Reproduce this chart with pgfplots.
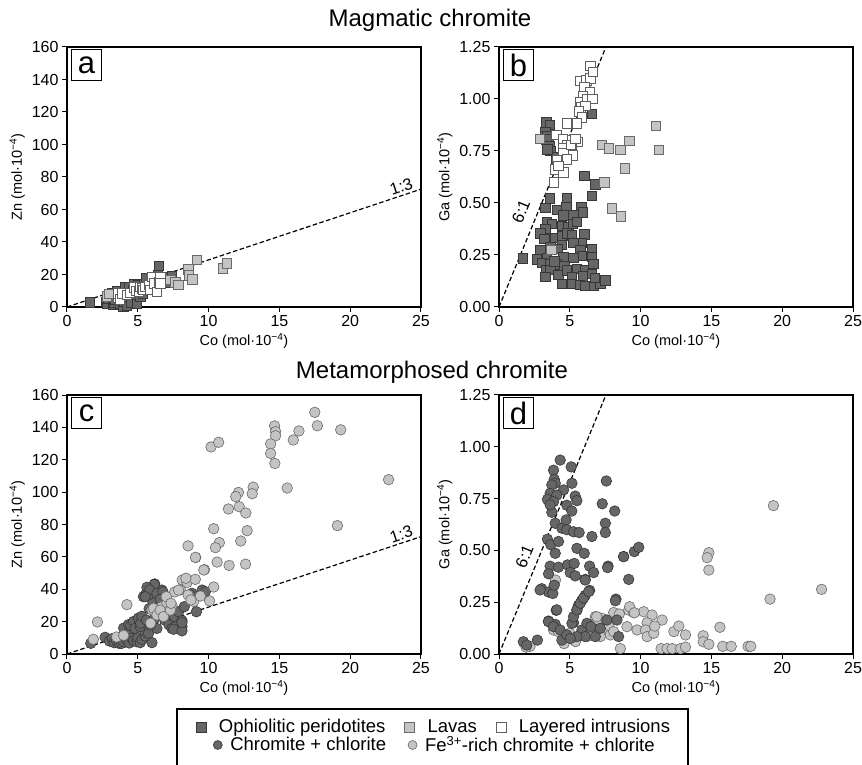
\documentclass[border=0pt]{standalone}
\usepackage{fontspec}
\setmainfont{Liberation Sans}
\usepackage{pgfplots}
\pgfplotsset{compat=1.18}
\definecolor{dfill}{RGB}{102,102,102}
\definecolor{dedge}{RGB}{55,55,55}
\definecolor{lfill}{RGB}{196,196,196}
\definecolor{ledge}{RGB}{105,105,105}
\definecolor{wedge}{RGB}{95,95,95}
\tikzset{
 oph/.style={only marks, mark=square*, mark size=4.7pt, mark options={fill=dfill, draw=dedge, line width=0.6pt}},
 lav/.style={only marks, mark=square*, mark size=4.7pt, mark options={fill=lfill, draw=ledge, line width=0.6pt}},
 lay/.style={only marks, mark=square*, mark size=4.7pt, mark options={fill=white, draw=wedge, line width=0.6pt}},
 chl/.style={only marks, mark=*, mark size=5.3pt, mark options={fill=dfill, draw=dedge, line width=0.6pt}},
 fer/.style={only marks, mark=*, mark size=5.3pt, mark options={fill=lfill, draw=ledge, line width=0.6pt}},
 letter/.style={draw, line width=1.1pt, anchor=north west, minimum width=30pt, minimum height=31pt,
  inner sep=0pt, fill=white, font=\fontsize{31}{31}\selectfont, xshift=4pt, yshift=-2pt},
 ratio/.style={font=\fontsize{16.5}{18}\selectfont},
 rline/.style={black, line width=1.2pt, dash pattern=on 4.5pt off 2.5pt},
}
\pgfplotsset{
 panel/.style={scale only axis, width=354pt, xmin=0, xmax=25, xtick={0,5,...,25},
  clip=false, axis line style={line width=1.1pt}, tick style={line width=1pt, black},
  tick align=outside, tick pos=left, major tick length=5pt,
  /pgf/number format/assume math mode=true,
  ticklabel style={font=\fontsize{16}{18}\selectfont},
  label style={font=\fontsize{14.5}{16}\selectfont},
  xlabel={Co (mol·10\textsuperscript{−4})}},
 zn/.style={ymin=0, ymax=160, ytick={0,20,...,160}, ylabel={Zn (mol·10\textsuperscript{−4})}},
 ga/.style={ymin=0, ymax=1.25, ytick={0,0.25,...,1.25}, ylabel={Ga (mol·10\textsuperscript{−4})},
  yticklabel style={/pgf/number format/.cd, fixed, fixed zerofill, precision=2}},
 legax/.style={hide axis, scale only axis, width=10pt, height=10pt, anchor=center,
  xmin=0, xmax=1, ymin=0, ymax=1,
  legend image code/.code={\draw[##1] plot coordinates {(0pt,0pt)};},
  legend style={at={(0.5,0.5)}, anchor=center, draw=none, fill=none, inner sep=0pt,
   font=\fontsize{18.5}{20}\selectfont}},
}
\begin{document}
\begin{tikzpicture}[x=1pt,y=1pt]
\useasboundingbox (0,0) rectangle (862,764);
\node[font=\fontsize{24}{28}\selectfont] at (430,744) {Magmatic chromite};
\node[font=\fontsize{24}{28}\selectfont] at (432,392) {Metamorphosed chromite};

% ---------------- panel a
\begin{axis}[panel, zn, height=260pt, at={(67pt,457pt)}, anchor=south west]
\addplot[rline] coordinates {(0,0) (25,72.5)};
\addplot[oph] coordinates {(1.6,3) (2.76,3.3) (2.8,1.9) (2.93,5.4) (3.0,7.5) (3.16,8.4) (3.28,1.7) (3.3,2.8)
 (3.4,4.3) (3.5,10) (3.56,8.0) (3.63,6.4) (3.75,2.3) (3.94,8.4) (3.99,0.4) (4.0,3.5) (4.11,12.5) (4.22,4.7)
 (4.22,0.8) (4.4,12) (4.51,2.7) (4.58,7.4) (4.65,10.5) (4.74,14.2) (4.93,10.9) (4.93,1.9) (5.0,13.5)
 (5.17,6.4) (5.36,8.0) (5.41,14.2) (5.59,18.0) (5.69,12.5) (6.0,11.5) (6.2,17) (6.42,19.9) (6.47,25.2)
 (6.7,16.6) (6.8,18.5) (7.06,15.2) (7.41,19.3)};
\addplot[lav] coordinates {(2.8,6.5) (3.0,8) (6.6,16) (7.06,16.6) (7.3,16.6) (7.65,15.2) (7.85,13.5)
 (8.58,23.3) (8.6,19.5) (8.85,17.1) (9.15,28.9) (11.0,23.9) (11.3,26.8)};
\addplot[lay] coordinates {(3.6,6) (3.63,8.4) (3.75,4.7) (3.87,8.4) (4.22,7.4) (4.46,8.8) (4.7,12.1)
 (4.9,10) (5.05,9.4) (5.17,12.5) (5.3,11.5) (5.4,10.5) (5.52,12.5) (5.76,13.5) (5.88,10.5) (5.99,18.6)
 (6.11,14.6) (6.35,9.4) (6.47,15.6) (6.58,18.6) (6.6,14.5)};
\node[ratio, rotate=18.4] at (axis cs:23.6,74) {1:3};
\node[letter] at (rel axis cs:0,1) {a};
\end{axis}

% ---------------- panel b
\begin{axis}[panel, ga, height=260pt, at={(499pt,457pt)}, anchor=south west]
\addplot[rline] coordinates {(0,0) (7.55,1.25)};
\addplot[oph] coordinates {(3.33,0.888) (3.57,0.875) (3.26,0.843) (3.38,0.822) (3.5,0.795) (3.33,0.806)
 (3.54,0.774) (3.61,0.752) (3.42,0.758) (4.13,0.72) (4.04,0.70) (6.56,0.93) (6.02,0.63) (6.8,0.59) (6.56,0.535)
 (3.57,0.523) (4.79,0.523) (3.26,0.477) (4.08,0.466) (4.74,0.48) (5.8,0.48) (5.92,0.455) (5.26,0.44)
 (4.55,0.44) (3.38,0.41) (3.73,0.40) (4.44,0.39) (4.89,0.383) (5.22,0.40) (5.5,0.41) (6.02,0.35) (5.85,0.31)
 (3.26,0.376) (2.91,0.354) (3.19,0.328) (3.97,0.334) (4.44,0.342) (4.79,0.354) (5.14,0.345) (5.26,0.308)
 (4.44,0.30) (4.15,0.28) (3.61,0.29) (2.91,0.274) (5.73,0.274) (6.56,0.277) (5.85,0.245) (6.56,0.242)
 (5.26,0.237) (4.55,0.242) (3.38,0.237) (2.67,0.229) (3.03,0.213) (3.57,0.205) (4.08,0.205) (4.6,0.197)
 (3.3,0.18) (3.61,0.18) (4.2,0.154) (4.79,0.176) (5.5,0.184) (6.09,0.18) (6.65,0.208) (6.56,0.16)
 (5.92,0.147) (5.14,0.144) (3.26,0.144) (4.44,0.112) (5.14,0.112) (5.69,0.107) (6.09,0.102) (6.68,0.102)
 (7.15,0.112) (7.51,0.128) (6.75,0.14) (3.9,0.22) (1.66,0.234)};
\addplot[lav] coordinates {(2.86,0.81) (7.27,0.78) (7.74,0.763) (8.57,0.755) (9.2,0.80) (11.07,0.87)
 (11.3,0.755) (8.88,0.666) (7.44,0.60) (7.96,0.474) (8.6,0.437) (3.68,0.274)};
\addplot[lay] coordinates {(6.44,1.16) (5.69,1.087) (6.16,1.09) (6.44,1.10) (6.63,1.13) (6.02,1.06)
 (6.4,1.035) (5.9,1.015) (5.69,0.987) (6.2,1.0) (6.6,1.0) (5.79,0.96) (6.1,0.966) (5.62,0.94) (5.85,0.912)
 (5.5,0.883) (4.79,0.883) (4.04,0.827) (4.51,0.81) (5.14,0.803) (5.57,0.795) (4.79,0.78) (4.51,0.763)
 (5.14,0.763) (4.55,0.74) (5.2,0.73) (4.79,0.71) (4.08,0.707) (3.96,0.662) (4.55,0.647) (3.85,0.60)
 (4.2,0.68) (5.07,0.78) (5.38,0.81)};
\node[ratio, rotate=67.8] at (axis cs:1.55,0.46) {6:1};
\node[letter] at (rel axis cs:0,1) {b};
\end{axis}

% ---------------- panel c
\begin{axis}[panel, zn, height=259pt, at={(67pt,110pt)}, anchor=south west]
\addplot[rline] coordinates {(0,0) (25,72.5)};
\addplot[chl] coordinates {(1.68,6.6) (2.69,10.3) (3.0,8) (3.2,9.5) (3.33,7.0) (3.5,8) (3.63,8.6) (3.7,6.5)
 (3.8,10.5) (3.87,6.6) (4.0,7.5) (4.2,11) (4.23,8.6) (4.4,6.8) (4.5,13) (4.58,9.7) (4.7,8.2) (4.93,7.6)
 (5.0,10) (5.17,7.0) (5.3,9) (5.52,11.1) (5.5,14) (5.76,12.8) (6.0,7.0) (6.35,15.8) (4.0,16) (4.34,18.1)
 (4.5,17.5) (4.7,20.1) (4.81,15.8) (5.05,22.2) (5.17,16.9) (5.2,19) (5.29,23.3) (5.6,21) (5.9,18) (6.2,22)
 (6.6,24) (6.9,21) (7.2,18) (5.8,28) (6.2,30) (6.6,31) (7.0,27) (7.4,28.5) (7.6,23)
 (5.4,35.4) (5.64,38.5) (6.0,40.6) (6.19,43.3) (6.47,38.5) (6.35,33.4) (6.7,39.5) (6.82,35.4) (6.0,33.4)
 (5.76,36.5) (6.16,43.0) (5.65,41.2) (5.84,39.6) (5.53,35.4) (6.35,37.5) (6.77,38.5) (6.59,33.8)
 (7.88,26.1) (8.28,29.2) (7.41,15.8) (7.65,16.9) (8.12,16.9) (8.12,20.6) (9.14,26.1) (8.82,37.5)
 (9.54,39.5) (9.77,38.5) (8.71,36.4) (7.53,15.3) (8.12,14.3) (8.12,19.4)};
\addplot[fer] coordinates {(17.5,149.3) (17.68,141) (19.33,138.5) (16.38,137.8) (15.98,132.2) (14.66,140.9)
 (14.73,137.4) (14.73,134.8) (14.38,129.8) (14.38,123.9) (14.68,117.7) (10.17,127.9) (10.71,130.8)
 (22.71,107.7) (15.55,102.5) (13.15,103.1) (13.08,99.0) (12.11,99.8) (11.92,97.2) (12.16,91.0) (11.4,89.6)
 (12.63,87.1) (19.1,79.3) (10.36,77.4) (12.72,76.2) (10.76,68.8) (12.27,69.8) (10.48,65.7) (8.55,66.8)
 (9.09,59.6) (9.71,52.1) (10.6,56.8) (11.45,54.7) (12.61,55.5) (8.14,45.7) (8.47,44.1) (9.06,46.1)
 (8.4,46.8) (10.36,41.4) (10.07,32.8) (4.23,30.5) (7.6,38.3) (8.0,39.6) (8.55,36.5) (8.95,32.4) (9.42,35.8)
 (6.66,29.0) (7.06,31.5) (7.41,30.0) (6.94,25.8) (6.71,23.7) (6.0,27.3) (2.15,19.8) (1.86,9.1) (3.5,10.5)
 (4.0,11.5) (5.9,19) (6.11,28.2) (6.35,24.1) (6.58,27.1) (6.82,23.1) (7.01,35.4) (7.3,27.1) (7.34,31.3)
 (7.88,39.5) (8.75,33.4) (9.66,51.9) (9.07,59.7)};
\node[ratio, rotate=18.4] at (axis cs:23.6,74) {1:3};
\node[letter] at (rel axis cs:0,1) {c};
\end{axis}

% ---------------- panel d
\begin{axis}[panel, ga, height=259pt, at={(499pt,110pt)}, anchor=south west]
\addplot[rline] coordinates {(0,0) (7.55,1.25)};
\addplot[fer] coordinates {(14.82,0.489) (14.7,0.465) (14.82,0.405) (22.78,0.312) (19.14,0.265) (19.38,0.716)
 (15.6,0.129) (14.42,0.088) (14.42,0.059) (14.82,0.047) (15.8,0.037) (16.4,0.037) (17.59,0.037) (17.78,0.037)
 (2.19,0.037) (1.91,0.033) (3.99,0.357) (9.16,0.212) (9.51,0.20) (8.1,0.20) (10.22,0.204) (10.81,0.188)
 (11.52,0.164) (10.46,0.151) (3.85,0.116) (4.2,0.108) (6.8,0.18) (7.15,0.164) (7.27,0.172) (7.39,0.124)
 (7.74,0.138) (7.86,0.092) (8.1,0.108) (9.04,0.132) (9.75,0.116) (10.34,0.116) (10.46,0.084) (12.35,0.108)
 (12.7,0.135) (13.17,0.092) (8.57,0.026) (11.45,0.026) (11.87,0.026) (12.23,0.026) (12.82,0.026)
 (13.17,0.033) (6.45,0.116) (6.33,0.138) (6.92,0.145) (7.03,0.116) (6.21,0.084) (7.15,0.084) (10.93,0.10)
 (9.23,0.228) (9.56,0.199) (8.5,0.193) (6.9,0.18) (11.0,0.135) (5.0,0.10) (5.4,0.06) (4.6,0.05)};
\addplot[chl] coordinates {(4.32,0.936) (5.1,0.903) (3.85,0.887) (7.58,0.835) (3.9,0.843) (3.97,0.824)
 (3.73,0.816) (4.56,0.792) (5.15,0.824) (3.61,0.775) (4.08,0.767) (3.42,0.746) (3.85,0.735) (5.38,0.762)
 (5.5,0.74) (7.29,0.725) (4.79,0.718) (5.14,0.69) (8.17,0.69) (3.73,0.684) (3.61,0.72) (3.97,0.631)
 (4.44,0.607) (4.74,0.647) (4.79,0.60) (5.26,0.59) (5.66,0.586) (7.51,0.631) (7.51,0.586) (6.56,0.567)
 (3.42,0.554) (3.66,0.527) (4.2,0.543) (3.97,0.486) (5.5,0.51) (6.02,0.486) (8.8,0.47) (9.56,0.494)
 (9.87,0.515) (3.61,0.424) (4.2,0.419) (3.5,0.387) (4.84,0.43) (5.03,0.393) (5.31,0.437) (5.38,0.377)
 (6.09,0.36) (6.4,0.424) (6.68,0.393) (7.7,0.424) (9.16,0.36) (3.02,0.315) (3.5,0.299) (3.8,0.292)
 (3.9,0.332) (6.4,0.307) (6.09,0.283) (5.85,0.259) (5.61,0.235) (5.5,0.211) (4.04,0.211) (8.26,0.265)
 (3.5,0.159) (3.97,0.143) (5.26,0.151) (1.72,0.059) (1.96,0.043) (2.71,0.067) (3.49,0.156) (3.85,0.132)
 (4.08,0.213) (4.32,0.116) (4.44,0.067) (4.79,0.092) (5.15,0.148) (5.26,0.18) (5.5,0.213) (5.74,0.245)
 (5.97,0.27) (6.33,0.301) (5.86,0.116) (6.09,0.084) (5.5,0.084) (5.03,0.075) (6.21,0.148) (6.49,0.132)
 (6.8,0.084) (7.15,0.124) (7.62,0.164) (8.22,0.257) (8.33,0.164) (8.45,0.084) (7.67,0.417) (8.8,0.47)
 (2.9,0.309) (6.09,0.357)};
\node[ratio, rotate=67.8] at (axis cs:1.8,0.47) {6:1};
\node[letter] at (rel axis cs:0,1) {d};
\end{axis}

% ---------------- legend
\draw[line width=1.1pt] (177,-10) rectangle (688,55);
\begin{axis}[legax, at={(434pt,37pt)}, legend columns=3,
 legend style={/tikz/every odd column/.append style={column sep=11pt},
  /tikz/every even column/.append style={column sep=17pt}}]
\addlegendimage{oph, mark size=5pt}\addlegendentry{Ophiolitic peridotites}
\addlegendimage{lav, mark size=5pt}\addlegendentry{Lavas}
\addlegendimage{lay, mark size=5pt}\addlegendentry{Layered intrusions}
\end{axis}
\begin{axis}[legax, at={(435pt,19pt)}, legend columns=2,
 legend style={/tikz/every odd column/.append style={column sep=6pt},
  /tikz/every even column/.append style={column sep=20pt}}]
\addlegendimage{chl, mark size=4.5pt}\addlegendentry{Chromite + chlorite}
\addlegendimage{fer, mark size=4.5pt}\addlegendentry{Fe\textsuperscript{3+}-rich chromite + chlorite}
\end{axis}
\end{tikzpicture}
\end{document}
